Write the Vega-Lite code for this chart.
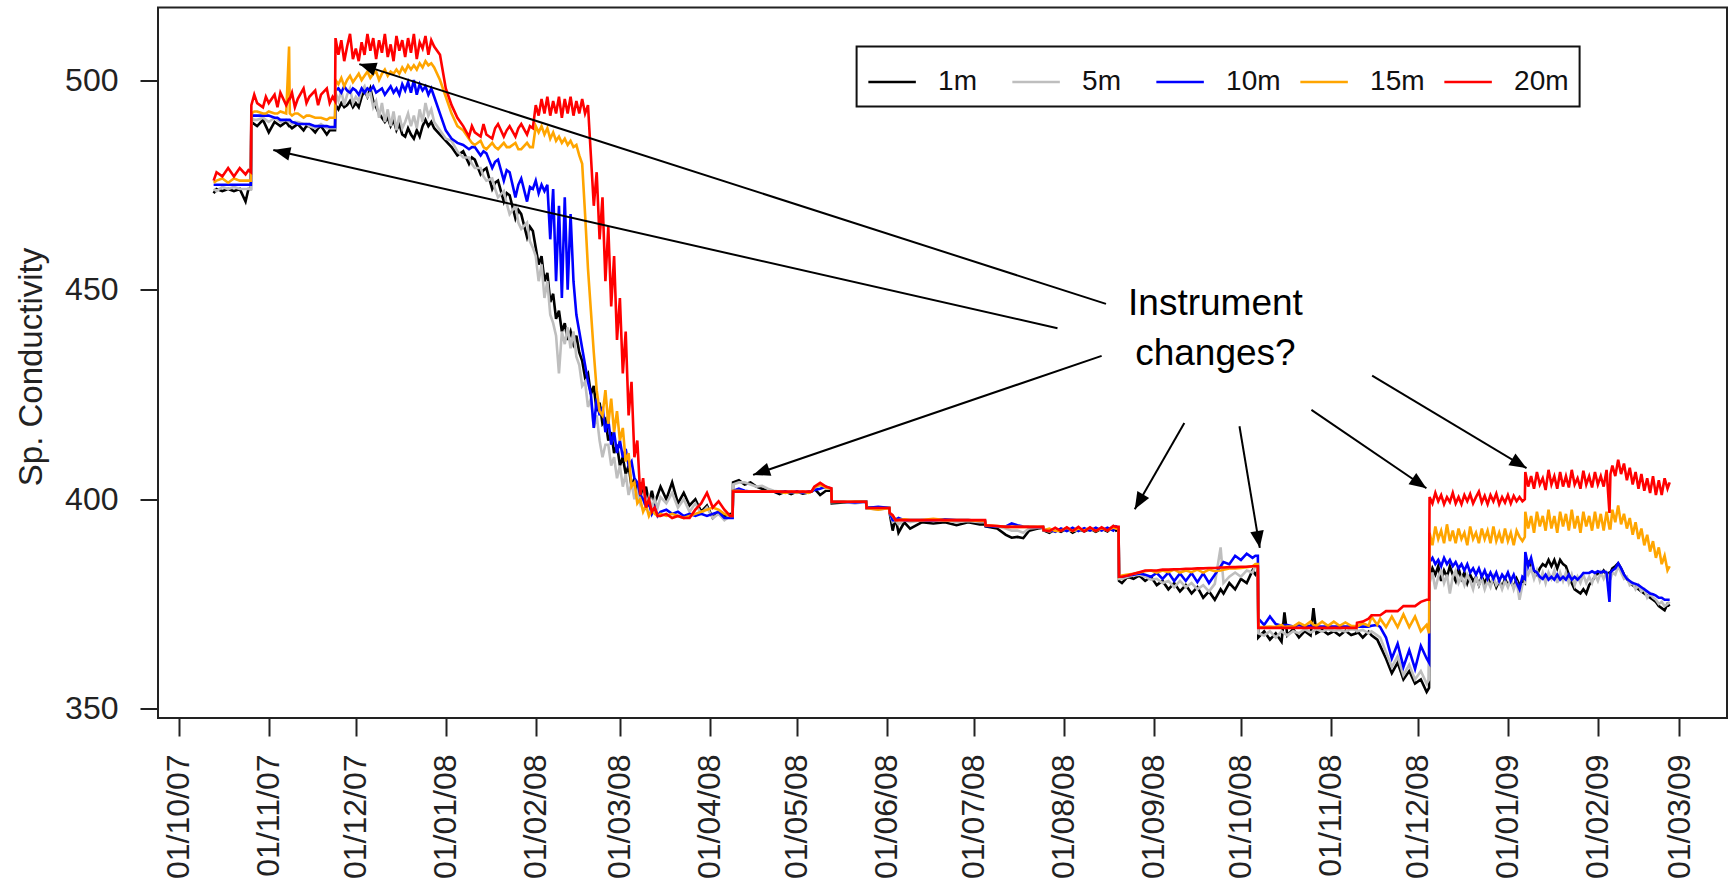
{
  "$schema": "https://vega.github.io/schema/vega-lite/v6.json",
  "width": 1569,
  "height": 710.5,
  "autosize": {"type": "none"},
  "padding": {"left": 158, "top": 7.5, "right": 4, "bottom": 164},
  "background": "white",
  "config": {
    "font": "Liberation Sans",
    "view": {"stroke": "#222222", "strokeWidth": 2},
    "axis": {"domain": false, "grid": false, "labelFont": "Liberation Sans", "titleFont": "Liberation Sans", "labelColor": "#222222", "titleColor": "#222222", "tickColor": "#222222"}
  },
  "datasets": {
    "sc": [
      {"t":"2007-10-13","1m":473,"5m":474,"10m":475,"15m":475.5,"20m":476},
      {"t":"2007-10-14","1m":474,"5m":473.5,"10m":475,"15m":476,"20m":478},
      {"t":"2007-10-16","1m":473.5,"5m":474.5,"10m":475,"15m":476.5,"20m":477},
      {"t":"2007-10-18","1m":474,"5m":474,"10m":475,"15m":475.5,"20m":479},
      {"t":"2007-10-20","1m":473.5,"5m":474.5,"10m":475,"15m":476.5,"20m":477},
      {"t":"2007-10-22","1m":474,"5m":474,"10m":475,"15m":476,"20m":479},
      {"t":"2007-10-24","1m":471,"5m":474,"10m":475,"15m":476,"20m":477.5},
      {"t":"2007-10-25","1m":474,"5m":474,"10m":475,"15m":476,"20m":478.5},
      {"t":"2007-10-25T20:00:00Z","1m":474,"5m":474,"10m":475,"15m":476,"20m":478},
      {"t":"2007-10-26","1m":490,"5m":491,"10m":491.5,"15m":492,"20m":494},
      {"t":"2007-10-27","1m":489.5,"5m":490.5,"10m":491.5,"15m":492.5,"20m":496.5},
      {"t":"2007-10-28","1m":489,"5m":490.5,"10m":491.5,"15m":492.5,"20m":494.5},
      {"t":"2007-10-30","1m":490.5,"5m":491,"10m":491.5,"15m":492,"20m":493.5},
      {"t":"2007-10-31","1m":489,"5m":490.5,"10m":491.5,"15m":492,"20m":496},
      {"t":"2007-11-01","1m":487.5,"5m":490,"10m":491.5,"15m":492.5,"20m":494.5},
      {"t":"2007-11-03","1m":490,"5m":491,"10m":491,"15m":492,"20m":496.5},
      {"t":"2007-11-04","1m":489.5,"5m":490.5,"10m":491,"15m":492,"20m":493.5},
      {"t":"2007-11-05","1m":489,"5m":490,"10m":490.5,"15m":492.5,"20m":497},
      {"t":"2007-11-07","1m":490,"5m":490.5,"10m":490.5,"15m":492,"20m":494},
      {"t":"2007-11-08","1m":489,"5m":490,"10m":490.5,"15m":508,"20m":495.5},
      {"t":"2007-11-08T06:00:00Z","1m":489,"5m":490,"10m":490.5,"15m":492,"20m":495.5},
      {"t":"2007-11-09","1m":488.5,"5m":489.5,"10m":490,"15m":491.5,"20m":497},
      {"t":"2007-11-10","1m":489,"5m":490,"10m":489.8,"15m":492,"20m":493.5},
      {"t":"2007-11-11","1m":489.5,"5m":490,"10m":489.5,"15m":492,"20m":495.5},
      {"t":"2007-11-13","1m":488,"5m":489.5,"10m":489.5,"15m":491,"20m":498},
      {"t":"2007-11-14","1m":489,"5m":489.5,"10m":489.5,"15m":491.5,"20m":494.5},
      {"t":"2007-11-15","1m":489,"5m":489,"10m":489.5,"15m":491.5,"20m":496},
      {"t":"2007-11-17","1m":487.5,"5m":488.5,"10m":489,"15m":491,"20m":497.5},
      {"t":"2007-11-18","1m":488.5,"5m":489,"10m":489,"15m":491,"20m":494},
      {"t":"2007-11-19","1m":489,"5m":489.5,"10m":489,"15m":491,"20m":496.5},
      {"t":"2007-11-21","1m":487,"5m":488.5,"10m":489,"15m":490.5,"20m":498},
      {"t":"2007-11-22","1m":488,"5m":488.5,"10m":488.8,"15m":491,"20m":494.5},
      {"t":"2007-11-23","1m":488,"5m":488.5,"10m":488.8,"15m":491,"20m":496},
      {"t":"2007-11-23T20:00:00Z","1m":488,"5m":488.5,"10m":488.8,"15m":491,"20m":495},
      {"t":"2007-11-24","1m":494,"5m":497,"10m":497.5,"15m":500,"20m":510},
      {"t":"2007-11-25","1m":493,"5m":495,"10m":498,"15m":499,"20m":506},
      {"t":"2007-11-26","1m":494.5,"5m":497.5,"10m":497,"15m":500.5,"20m":509.5},
      {"t":"2007-11-27","1m":493.5,"5m":494,"10m":498.5,"15m":498.5,"20m":504.5},
      {"t":"2007-11-28","1m":494,"5m":496.5,"10m":497.5,"15m":500,"20m":508},
      {"t":"2007-11-29","1m":495,"5m":498,"10m":497,"15m":501,"20m":511},
      {"t":"2007-11-30","1m":493.5,"5m":494.5,"10m":498,"15m":499.5,"20m":505},
      {"t":"2007-12-01","1m":494.5,"5m":496,"10m":497.5,"15m":500.5,"20m":507.5},
      {"t":"2007-12-02","1m":493.5,"5m":495,"10m":496.5,"15m":501.5,"20m":504.5},
      {"t":"2007-12-03","1m":496,"5m":497.5,"10m":498,"15m":500,"20m":509},
      {"t":"2007-12-04","1m":497.5,"5m":498.5,"10m":497,"15m":501,"20m":506},
      {"t":"2007-12-05","1m":496,"5m":496,"10m":498,"15m":502,"20m":511},
      {"t":"2007-12-06","1m":498,"5m":497,"10m":497.5,"15m":500.5,"20m":507},
      {"t":"2007-12-07","1m":495,"5m":493.5,"10m":498.5,"15m":501.5,"20m":510},
      {"t":"2007-12-08","1m":493.5,"5m":495,"10m":497,"15m":502,"20m":505},
      {"t":"2007-12-09","1m":492,"5m":491,"10m":497.5,"15m":500,"20m":509.5},
      {"t":"2007-12-10","1m":491,"5m":494.5,"10m":498,"15m":501.5,"20m":506.5},
      {"t":"2007-12-11","1m":490,"5m":490,"10m":496.5,"15m":502.5,"20m":511},
      {"t":"2007-12-12","1m":491,"5m":493,"10m":497.5,"15m":501,"20m":505.5},
      {"t":"2007-12-13","1m":489,"5m":489,"10m":498.5,"15m":502,"20m":508.5},
      {"t":"2007-12-14","1m":490.5,"5m":492.5,"10m":497,"15m":501.5,"20m":504.5},
      {"t":"2007-12-15","1m":488,"5m":488,"10m":498,"15m":502.5,"20m":510.5},
      {"t":"2007-12-16","1m":489.5,"5m":491.5,"10m":496.5,"15m":501.5,"20m":507},
      {"t":"2007-12-17","1m":487,"5m":488.5,"10m":499,"15m":503,"20m":509.5},
      {"t":"2007-12-18","1m":486.5,"5m":490,"10m":497.5,"15m":502,"20m":505.5},
      {"t":"2007-12-19","1m":488.5,"5m":492,"10m":499.5,"15m":503.5,"20m":510},
      {"t":"2007-12-20","1m":487,"5m":489,"10m":497,"15m":502.5,"20m":506.5},
      {"t":"2007-12-21","1m":486,"5m":491.5,"10m":500,"15m":503.5,"20m":511},
      {"t":"2007-12-22","1m":488,"5m":488.5,"10m":496.5,"15m":502.5,"20m":505},
      {"t":"2007-12-23","1m":486.5,"5m":493,"10m":499,"15m":504,"20m":509},
      {"t":"2007-12-24","1m":489,"5m":490,"10m":497.5,"15m":503,"20m":507.5},
      {"t":"2007-12-25","1m":490.5,"5m":494.5,"10m":498.5,"15m":504.5,"20m":510.5},
      {"t":"2007-12-26","1m":489,"5m":491.5,"10m":496.5,"15m":503.5,"20m":506},
      {"t":"2007-12-27","1m":490,"5m":493,"10m":498,"15m":504,"20m":509.5},
      {"t":"2007-12-28","1m":488.5,"5m":490,"10m":496,"15m":503,"20m":508},
      {"t":"2007-12-30","1m":487,"5m":488,"10m":492,"15m":500,"20m":506},
      {"t":"2008-01-01","1m":485.5,"5m":486,"10m":488,"15m":496,"20m":498},
      {"t":"2008-01-03","1m":484,"5m":485.5,"10m":486,"15m":492,"20m":494},
      {"t":"2008-01-05","1m":482,"5m":483,"10m":485,"15m":489,"20m":491},
      {"t":"2008-01-07","1m":483,"5m":481.5,"10m":484.5,"15m":488,"20m":489},
      {"t":"2008-01-09","1m":480,"5m":481.5,"10m":483.5,"15m":486,"20m":486.5},
      {"t":"2008-01-10","1m":481.5,"5m":480,"10m":484,"15m":485,"20m":489},
      {"t":"2008-01-11","1m":481,"5m":479,"10m":484,"15m":484.5,"20m":487.5},
      {"t":"2008-01-13","1m":477.5,"5m":479,"10m":482,"15m":485.5,"20m":486.5},
      {"t":"2008-01-14","1m":478.5,"5m":477,"10m":483,"15m":484,"20m":489.5},
      {"t":"2008-01-15","1m":479,"5m":476,"10m":482.5,"15m":483.5,"20m":487},
      {"t":"2008-01-17","1m":474,"5m":476.5,"10m":479,"15m":485,"20m":486},
      {"t":"2008-01-18","1m":475.5,"5m":474,"10m":480.5,"15m":484,"20m":488.5},
      {"t":"2008-01-19","1m":476,"5m":472,"10m":481,"15m":483.5,"20m":489.5},
      {"t":"2008-01-21","1m":471,"5m":473.5,"10m":476,"15m":485,"20m":486.5},
      {"t":"2008-01-22","1m":473,"5m":470.5,"10m":478.5,"15m":484,"20m":488},
      {"t":"2008-01-23","1m":472.5,"5m":468,"10m":478,"15m":484,"20m":489},
      {"t":"2008-01-25","1m":467,"5m":470,"10m":472,"15m":485,"20m":486.5},
      {"t":"2008-01-26","1m":469,"5m":466,"10m":475,"15m":483.5,"20m":488.5},
      {"t":"2008-01-27","1m":468,"5m":464.5,"10m":476.5,"15m":483.5,"20m":489.5},
      {"t":"2008-01-29","1m":462.5,"5m":466,"10m":471,"15m":485,"20m":487},
      {"t":"2008-01-30","1m":465,"5m":461.5,"10m":474.5,"15m":484,"20m":489},
      {"t":"2008-01-31","1m":464,"5m":460,"10m":474,"15m":484,"20m":488.5},
      {"t":"2008-02-01","1m":460,"5m":458,"10m":476,"15m":489,"20m":494},
      {"t":"2008-02-02","1m":456,"5m":452,"10m":473,"15m":487.5,"20m":491.5},
      {"t":"2008-02-03","1m":458,"5m":456,"10m":475,"15m":489,"20m":495.5},
      {"t":"2008-02-04","1m":452,"5m":448,"10m":473.5,"15m":487,"20m":492},
      {"t":"2008-02-05","1m":454,"5m":452,"10m":475,"15m":488.5,"20m":496},
      {"t":"2008-02-06","1m":447,"5m":444,"10m":462,"15m":486,"20m":491.5},
      {"t":"2008-02-07","1m":449,"5m":442,"10m":474,"15m":487.5,"20m":495},
      {"t":"2008-02-08","1m":443,"5m":439,"10m":452,"15m":485.5,"20m":492},
      {"t":"2008-02-09","1m":445,"5m":430,"10m":470,"15m":486.5,"20m":496},
      {"t":"2008-02-10","1m":440,"5m":440,"10m":448,"15m":485,"20m":491},
      {"t":"2008-02-11","1m":442,"5m":437,"10m":472,"15m":486,"20m":495.5},
      {"t":"2008-02-12","1m":438,"5m":441,"10m":450,"15m":484.5,"20m":492},
      {"t":"2008-02-13","1m":440,"5m":436,"10m":468,"15m":485.5,"20m":496},
      {"t":"2008-02-14","1m":437,"5m":440,"10m":452,"15m":484,"20m":491.5},
      {"t":"2008-02-15","1m":439,"5m":434,"10m":444,"15m":484.5,"20m":495},
      {"t":"2008-02-16","1m":435,"5m":432,"10m":440,"15m":482,"20m":492},
      {"t":"2008-02-17","1m":433,"5m":427,"10m":436,"15m":480,"20m":495.5},
      {"t":"2008-02-18","1m":429,"5m":428,"10m":432,"15m":468,"20m":492},
      {"t":"2008-02-19","1m":430,"5m":422,"10m":428,"15m":455,"20m":494},
      {"t":"2008-02-20","1m":425,"5m":424,"10m":425,"15m":445,"20m":482},
      {"t":"2008-02-21","1m":427,"5m":417,"10m":417,"15m":435,"20m":470},
      {"t":"2008-02-22","1m":421,"5m":420,"10m":424,"15m":426,"20m":478},
      {"t":"2008-02-23","1m":423,"5m":414,"10m":420,"15m":421,"20m":462},
      {"t":"2008-02-24","1m":418,"5m":410,"10m":422,"15m":420,"20m":472},
      {"t":"2008-02-25","1m":419,"5m":413,"10m":416,"15m":426,"20m":452},
      {"t":"2008-02-26","1m":414,"5m":413,"10m":419,"15m":418,"20m":465},
      {"t":"2008-02-27","1m":416,"5m":408,"10m":413,"15m":424,"20m":446},
      {"t":"2008-02-28","1m":411,"5m":410,"10m":416,"15m":416,"20m":458},
      {"t":"2008-02-29","1m":413,"5m":405,"10m":411,"15m":421,"20m":438},
      {"t":"2008-03-01","1m":408,"5m":408,"10m":414,"15m":414,"20m":448},
      {"t":"2008-03-02","1m":410,"5m":403,"10m":410,"15m":417,"20m":430},
      {"t":"2008-03-03","1m":406,"5m":406,"10m":412,"15m":409,"20m":440},
      {"t":"2008-03-04","1m":408,"5m":401,"10m":408,"15m":411,"20m":420},
      {"t":"2008-03-05","1m":403,"5m":404,"10m":409,"15m":403,"20m":428},
      {"t":"2008-03-06","1m":405,"5m":400,"10m":405,"15m":404,"20m":410},
      {"t":"2008-03-07","1m":401,"5m":402,"10m":404,"15m":399,"20m":414},
      {"t":"2008-03-08","1m":404,"5m":399,"10m":401,"15m":400,"20m":401},
      {"t":"2008-03-09","1m":400,"5m":401,"10m":400,"15m":397,"20m":405},
      {"t":"2008-03-10","1m":403,"5m":398.5,"10m":398,"15m":398.5,"20m":398},
      {"t":"2008-03-11","1m":399,"5m":400.5,"10m":399,"15m":396,"20m":400},
      {"t":"2008-03-12","1m":402,"5m":398,"10m":396.5,"15m":397.5,"20m":397},
      {"t":"2008-03-13","1m":399,"5m":400,"10m":398,"15m":396.5,"20m":398},
      {"t":"2008-03-14","1m":401,"5m":398,"10m":396,"15m":396,"20m":396},
      {"t":"2008-03-15","1m":403,"5m":400.5,"10m":397,"15m":396.5,"20m":396},
      {"t":"2008-03-17","1m":400,"5m":399,"10m":397.5,"15m":396,"20m":396.5},
      {"t":"2008-03-19","1m":404,"5m":401.5,"10m":396.5,"15m":396.5,"20m":395.5},
      {"t":"2008-03-21","1m":399,"5m":398,"10m":397,"15m":396,"20m":396},
      {"t":"2008-03-23","1m":401.5,"5m":400,"10m":396,"15m":395.5,"20m":395.5},
      {"t":"2008-03-25","1m":398.5,"5m":397,"10m":396.5,"15m":396,"20m":395.5},
      {"t":"2008-03-27","1m":400,"5m":399,"10m":396,"15m":396.5,"20m":397.5},
      {"t":"2008-03-29","1m":397,"5m":396.5,"10m":396.5,"15m":397,"20m":399},
      {"t":"2008-03-31","1m":398.5,"5m":398,"10m":396,"15m":397.5,"20m":401.5},
      {"t":"2008-04-02","1m":395.5,"5m":395.5,"10m":396.5,"15m":398,"20m":398},
      {"t":"2008-04-04","1m":397,"5m":396.5,"10m":397,"15m":397.5,"20m":399.5},
      {"t":"2008-04-06","1m":396,"5m":395,"10m":395.5,"15m":396.5,"20m":397.5},
      {"t":"2008-04-08","1m":396.5,"5m":396,"10m":395.5,"15m":396,"20m":396},
      {"t":"2008-04-08T20:00:00Z","1m":396,"5m":396,"10m":395.5,"15m":396,"20m":396},
      {"t":"2008-04-09","1m":404,"5m":403.5,"10m":402,"15m":402,"20m":401.8},
      {"t":"2008-04-11","1m":404.5,"5m":404,"10m":402.5,"15m":402,"20m":401.8},
      {"t":"2008-04-13","1m":403.5,"5m":404,"10m":402,"15m":401.8,"20m":401.8},
      {"t":"2008-04-15","1m":404,"5m":403.5,"10m":401.8,"15m":401.8,"20m":401.8},
      {"t":"2008-04-17","1m":403,"5m":403,"10m":401.8,"15m":401.8,"20m":401.8},
      {"t":"2008-04-19","1m":402.5,"5m":403.2,"10m":401.8,"15m":401.8,"20m":401.8},
      {"t":"2008-04-21","1m":402,"5m":402.5,"10m":401.8,"15m":401.8,"20m":401.8},
      {"t":"2008-04-23","1m":401.8,"5m":402,"10m":401.8,"15m":401.8,"20m":401.8},
      {"t":"2008-04-25","1m":401.2,"5m":401.8,"10m":401.7,"15m":401.8,"20m":401.8},
      {"t":"2008-04-27","1m":401.8,"5m":401.6,"10m":401.8,"15m":401.5,"20m":401.8},
      {"t":"2008-04-29","1m":401.2,"5m":401.8,"10m":401.6,"15m":401.8,"20m":401.8},
      {"t":"2008-05-01","1m":401.8,"5m":401.5,"10m":401.8,"15m":401.6,"20m":401.8},
      {"t":"2008-05-03","1m":401.3,"5m":401.8,"10m":401.5,"15m":401.8,"20m":401.8},
      {"t":"2008-05-05","1m":401.6,"5m":401.6,"10m":401.8,"15m":401.5,"20m":401.8},
      {"t":"2008-05-06","1m":401.8,"5m":401.8,"10m":401.8,"15m":401.8,"20m":401.8},
      {"t":"2008-05-07","1m":402.5,"5m":402.5,"10m":402.2,"15m":402.8,"20m":403},
      {"t":"2008-05-09","1m":401,"5m":403.5,"10m":402.5,"15m":403.5,"20m":403.9},
      {"t":"2008-05-11","1m":402,"5m":402.5,"10m":403,"15m":402.8,"20m":403},
      {"t":"2008-05-12T20:00:00Z","1m":402,"5m":402.5,"10m":402.5,"15m":402.5,"20m":402.6},
      {"t":"2008-05-13","1m":399,"5m":399.3,"10m":399.4,"15m":399.4,"20m":399.4},
      {"t":"2008-05-17","1m":399.2,"5m":399.4,"10m":399.4,"15m":399.4,"20m":399.4},
      {"t":"2008-05-21","1m":399.4,"5m":399,"10m":399.2,"15m":399.4,"20m":399.4},
      {"t":"2008-05-24T20:00:00Z","1m":399.4,"5m":399.4,"10m":399.4,"15m":399.4,"20m":399.4},
      {"t":"2008-05-25","1m":398,"5m":397.9,"10m":397.9,"15m":397.9,"20m":397.9},
      {"t":"2008-05-29","1m":397.9,"5m":397.5,"10m":398.2,"15m":397.5,"20m":397.9},
      {"t":"2008-06-01T20:00:00Z","1m":397.9,"5m":397.9,"10m":397.9,"15m":397.9,"20m":397.9},
      {"t":"2008-06-02","1m":396.5,"5m":396.7,"10m":396.7,"15m":396.7,"20m":396.7},
      {"t":"2008-06-03","1m":392.5,"5m":394.5,"10m":395,"15m":396,"20m":396.2},
      {"t":"2008-06-04","1m":395.5,"5m":395,"10m":395,"15m":395,"20m":395},
      {"t":"2008-06-05","1m":392,"5m":394,"10m":395.5,"15m":395,"20m":395},
      {"t":"2008-06-07","1m":394.5,"5m":395,"10m":395,"15m":395.2,"20m":395},
      {"t":"2008-06-09","1m":393,"5m":394.5,"10m":395,"15m":395,"20m":395},
      {"t":"2008-06-13","1m":394.5,"5m":395,"10m":395,"15m":395,"20m":395},
      {"t":"2008-06-17","1m":394.2,"5m":394.8,"10m":395,"15m":395.3,"20m":395},
      {"t":"2008-06-21","1m":394.5,"5m":395,"10m":395.2,"15m":395,"20m":395},
      {"t":"2008-06-25","1m":393.8,"5m":394.5,"10m":395,"15m":395,"20m":395},
      {"t":"2008-06-29","1m":394.5,"5m":394.8,"10m":395,"15m":395,"20m":395},
      {"t":"2008-07-03","1m":394,"5m":394.5,"10m":394.8,"15m":394.8,"20m":395},
      {"t":"2008-07-04T20:00:00Z","1m":394,"5m":394.5,"10m":394.8,"15m":394.8,"20m":395},
      {"t":"2008-07-05","1m":393.5,"5m":393.8,"10m":393.6,"15m":393.8,"20m":393.8},
      {"t":"2008-07-09","1m":393,"5m":393.5,"10m":393.5,"15m":393.6,"20m":393.6},
      {"t":"2008-07-12","1m":391.5,"5m":393,"10m":393.5,"15m":393.4,"20m":393.4},
      {"t":"2008-07-14","1m":390.8,"5m":392.5,"10m":394.2,"15m":393.4,"20m":393.4},
      {"t":"2008-07-16","1m":391,"5m":392.5,"10m":393.8,"15m":393.4,"20m":393.4},
      {"t":"2008-07-18","1m":390.7,"5m":392,"10m":393.5,"15m":393.4,"20m":393.4},
      {"t":"2008-07-20","1m":392.5,"5m":393,"10m":393.4,"15m":393.4,"20m":393.4},
      {"t":"2008-07-23","1m":393,"5m":393.2,"10m":393.3,"15m":393.4,"20m":393.4},
      {"t":"2008-07-24T20:00:00Z","1m":393.2,"5m":393.3,"10m":393.4,"15m":393.4,"20m":393.4},
      {"t":"2008-07-25","1m":392.6,"5m":392.6,"10m":392.6,"15m":392.6,"20m":392.6},
      {"t":"2008-07-27","1m":392,"5m":392.3,"10m":392.8,"15m":393,"20m":392.4},
      {"t":"2008-07-29","1m":392.8,"5m":392.6,"10m":392.2,"15m":392.4,"20m":393.2},
      {"t":"2008-07-31","1m":392.2,"5m":392.8,"10m":393,"15m":392.5,"20m":392.4},
      {"t":"2008-08-02","1m":393,"5m":392.4,"10m":392.4,"15m":393.2,"20m":393.3},
      {"t":"2008-08-04","1m":392,"5m":392.6,"10m":393.2,"15m":392.4,"20m":392.4},
      {"t":"2008-08-06","1m":392.8,"5m":392.5,"10m":392.4,"15m":393,"20m":393.4},
      {"t":"2008-08-08","1m":392.3,"5m":392.8,"10m":393.1,"15m":392.5,"20m":392.3},
      {"t":"2008-08-10","1m":392.9,"5m":392.5,"10m":392.5,"15m":393.2,"20m":393.3},
      {"t":"2008-08-12","1m":392.2,"5m":392.8,"10m":393.2,"15m":392.4,"20m":392.4},
      {"t":"2008-08-14","1m":393,"5m":392.6,"10m":392.5,"15m":393.1,"20m":393.3},
      {"t":"2008-08-16","1m":392.3,"5m":392.9,"10m":393.2,"15m":392.5,"20m":392.5},
      {"t":"2008-08-18","1m":393.5,"5m":393.4,"10m":392.5,"15m":393.3,"20m":393.6},
      {"t":"2008-08-19","1m":392.5,"5m":393,"10m":393.5,"15m":393,"20m":393.4},
      {"t":"2008-08-19T20:00:00Z","1m":392.8,"5m":393,"10m":393.2,"15m":393.2,"20m":393.4},
      {"t":"2008-08-20","1m":380.5,"5m":381,"10m":381.5,"15m":381.5,"20m":381.5},
      {"t":"2008-08-21","1m":380,"5m":381,"10m":381.5,"15m":381.8,"20m":381.5},
      {"t":"2008-08-23","1m":381.5,"5m":381.5,"10m":381.8,"15m":382,"20m":381.8},
      {"t":"2008-08-25","1m":381,"5m":381.8,"10m":382,"15m":382.2,"20m":382.2},
      {"t":"2008-08-27","1m":381.8,"5m":382,"10m":382.3,"15m":382.5,"20m":382.6},
      {"t":"2008-08-29","1m":380.5,"5m":381.5,"10m":382,"15m":382.8,"20m":383},
      {"t":"2008-08-31","1m":381.5,"5m":380.8,"10m":381.5,"15m":383,"20m":383},
      {"t":"2008-09-02","1m":379.5,"5m":381,"10m":382.4,"15m":382.5,"20m":383},
      {"t":"2008-09-04","1m":380.5,"5m":380,"10m":381,"15m":383,"20m":383.2},
      {"t":"2008-09-06","1m":378.5,"5m":380.5,"10m":382.5,"15m":382.6,"20m":383.2},
      {"t":"2008-09-08","1m":380,"5m":379,"10m":380.5,"15m":383.2,"20m":383.3},
      {"t":"2008-09-10","1m":378,"5m":380.5,"10m":382.3,"15m":382.5,"20m":383.3},
      {"t":"2008-09-12","1m":379.5,"5m":379,"10m":380.5,"15m":383,"20m":383.4},
      {"t":"2008-09-14","1m":377.5,"5m":380,"10m":382.4,"15m":382.6,"20m":383.4},
      {"t":"2008-09-16","1m":379,"5m":378.5,"10m":380.2,"15m":383.2,"20m":383.5},
      {"t":"2008-09-18","1m":376.5,"5m":379.5,"10m":382.3,"15m":382.5,"20m":383.5},
      {"t":"2008-09-20","1m":378,"5m":378,"10m":380,"15m":383.2,"20m":383.6},
      {"t":"2008-09-22","1m":376,"5m":379.8,"10m":382,"15m":382.8,"20m":383.6},
      {"t":"2008-09-24","1m":378.5,"5m":388.5,"10m":384,"15m":383,"20m":383.7},
      {"t":"2008-09-25","1m":377.5,"5m":380,"10m":385,"15m":383.2,"20m":383.7},
      {"t":"2008-09-27","1m":380,"5m":381.5,"10m":384.5,"15m":383.5,"20m":383.8},
      {"t":"2008-09-29","1m":378.5,"5m":382.5,"10m":386.5,"15m":383.5,"20m":383.8},
      {"t":"2008-10-01","1m":381,"5m":381.5,"10m":385.5,"15m":383.6,"20m":383.9},
      {"t":"2008-10-03","1m":380,"5m":383,"10m":387,"15m":383.8,"20m":383.9},
      {"t":"2008-10-05","1m":383,"5m":382.5,"10m":386,"15m":384,"20m":384},
      {"t":"2008-10-06","1m":382,"5m":384,"10m":386.5,"15m":384.5,"20m":384},
      {"t":"2008-10-06T20:00:00Z","1m":383,"5m":384,"10m":386.5,"15m":384.5,"20m":384},
      {"t":"2008-10-07","1m":367,"5m":368,"10m":371.5,"15m":369.5,"20m":369.3},
      {"t":"2008-10-09","1m":368.5,"5m":367.5,"10m":370,"15m":369.5,"20m":369.3},
      {"t":"2008-10-11","1m":366.5,"5m":368.5,"10m":372,"15m":369.6,"20m":369.3},
      {"t":"2008-10-13","1m":368,"5m":367,"10m":370.2,"15m":369.5,"20m":369.3},
      {"t":"2008-10-15","1m":366,"5m":368.5,"10m":369.8,"15m":370,"20m":369.3},
      {"t":"2008-10-16","1m":373,"5m":368,"10m":370,"15m":369.5,"20m":369.3},
      {"t":"2008-10-17","1m":367.5,"5m":367.5,"10m":370,"15m":369.6,"20m":369.3},
      {"t":"2008-10-19","1m":369,"5m":368.5,"10m":369.6,"15m":369.6,"20m":369.3},
      {"t":"2008-10-21","1m":367,"5m":368,"10m":370,"15m":370.5,"20m":369.3},
      {"t":"2008-10-23","1m":368.5,"5m":369,"10m":369.6,"15m":369.8,"20m":369.3},
      {"t":"2008-10-25","1m":367.5,"5m":368.2,"10m":369.8,"15m":370.8,"20m":369.3},
      {"t":"2008-10-26","1m":374,"5m":368.5,"10m":369.6,"15m":370,"20m":369.3},
      {"t":"2008-10-27","1m":368,"5m":369,"10m":369.6,"15m":369.8,"20m":369.3},
      {"t":"2008-10-29","1m":368.8,"5m":368.4,"10m":369.6,"15m":370.8,"20m":369.3},
      {"t":"2008-10-31","1m":367.8,"5m":369,"10m":369.6,"15m":369.8,"20m":369.3},
      {"t":"2008-11-02","1m":368.5,"5m":368.6,"10m":369.6,"15m":370.8,"20m":369.3},
      {"t":"2008-11-04","1m":367.5,"5m":368.8,"10m":369.6,"15m":369.8,"20m":369.3},
      {"t":"2008-11-06","1m":368.6,"5m":368.4,"10m":369.6,"15m":370.6,"20m":369.3},
      {"t":"2008-11-08","1m":367.6,"5m":369,"10m":369.6,"15m":369.8,"20m":369.3},
      {"t":"2008-11-09T20:00:00Z","1m":368,"5m":368.8,"10m":369.6,"15m":369.7,"20m":369.3},
      {"t":"2008-11-10","1m":368.6,"5m":368.5,"10m":369.6,"15m":369.6,"20m":370.5},
      {"t":"2008-11-12","1m":367,"5m":368.8,"10m":369.6,"15m":370.4,"20m":370.8},
      {"t":"2008-11-14","1m":368.4,"5m":368,"10m":369.6,"15m":369.8,"20m":371.5},
      {"t":"2008-11-15","1m":367.5,"5m":368.5,"10m":369.8,"15m":372,"20m":372.3},
      {"t":"2008-11-17","1m":366.5,"5m":367.5,"10m":370,"15m":370,"20m":372.3},
      {"t":"2008-11-18","1m":365,"5m":367,"10m":369.5,"15m":371.5,"20m":372.3},
      {"t":"2008-11-20","1m":362,"5m":363.5,"10m":367,"15m":369.5,"20m":373.3},
      {"t":"2008-11-22","1m":358.5,"5m":360,"10m":362,"15m":372,"20m":373.3},
      {"t":"2008-11-24","1m":361,"5m":362.5,"10m":365.5,"15m":369.5,"20m":373.3},
      {"t":"2008-11-26","1m":357,"5m":358,"10m":360,"15m":372.5,"20m":374.5},
      {"t":"2008-11-28","1m":359,"5m":360.5,"10m":364,"15m":369.5,"20m":374.5},
      {"t":"2008-11-30","1m":356,"5m":357,"10m":359.5,"15m":372,"20m":374.5},
      {"t":"2008-12-02","1m":357,"5m":359,"10m":365,"15m":368.5,"20m":375.5},
      {"t":"2008-12-04","1m":354,"5m":356,"10m":362,"15m":370,"20m":376},
      {"t":"2008-12-04T20:00:00Z","1m":355,"5m":357,"10m":361,"15m":368,"20m":376},
      {"t":"2008-12-05","1m":381,"5m":380,"10m":385,"15m":392,"20m":400.5},
      {"t":"2008-12-06","1m":383.5,"5m":382.5,"10m":386,"15m":389,"20m":399},
      {"t":"2008-12-07","1m":382,"5m":378.5,"10m":384.5,"15m":393.5,"20m":401.5},
      {"t":"2008-12-08","1m":384,"5m":381.5,"10m":385.5,"15m":390.5,"20m":399.5},
      {"t":"2008-12-09","1m":380.5,"5m":383,"10m":384,"15m":392.5,"20m":401},
      {"t":"2008-12-10","1m":383,"5m":380,"10m":386,"15m":389.5,"20m":398.8},
      {"t":"2008-12-11","1m":381.5,"5m":382,"10m":384.5,"15m":394,"20m":400.5},
      {"t":"2008-12-12","1m":384,"5m":377.5,"10m":385.5,"15m":390,"20m":399.3},
      {"t":"2008-12-13","1m":382,"5m":381.5,"10m":384,"15m":392.5,"20m":401.5},
      {"t":"2008-12-14","1m":380.5,"5m":383,"10m":385,"15m":389.5,"20m":399},
      {"t":"2008-12-15","1m":383.5,"5m":380,"10m":383.5,"15m":393,"20m":400.5},
      {"t":"2008-12-16","1m":381,"5m":381.5,"10m":384.5,"15m":390.5,"20m":398.8},
      {"t":"2008-12-17","1m":382.5,"5m":379.5,"10m":383,"15m":392,"20m":401},
      {"t":"2008-12-18","1m":380,"5m":382,"10m":384.5,"15m":389,"20m":399.5},
      {"t":"2008-12-19","1m":382,"5m":380.5,"10m":382.5,"15m":393.5,"20m":401.2},
      {"t":"2008-12-20","1m":380.5,"5m":378.5,"10m":383.5,"15m":390.5,"20m":399},
      {"t":"2008-12-21","1m":381.5,"5m":381.5,"10m":382,"15m":392,"20m":400.5},
      {"t":"2008-12-22","1m":379.5,"5m":379.5,"10m":383.5,"15m":389.5,"20m":401.8},
      {"t":"2008-12-23","1m":381.5,"5m":381,"10m":381.5,"15m":393,"20m":399.2},
      {"t":"2008-12-24","1m":380,"5m":378.5,"10m":383,"15m":390.5,"20m":400.8},
      {"t":"2008-12-25","1m":381.5,"5m":380.5,"10m":381,"15m":392.5,"20m":398.8},
      {"t":"2008-12-26","1m":379.5,"5m":379,"10m":382.5,"15m":389.5,"20m":401},
      {"t":"2008-12-27","1m":381,"5m":381.5,"10m":381,"15m":393.5,"20m":399.5},
      {"t":"2008-12-28","1m":379,"5m":379.5,"10m":382.5,"15m":390,"20m":401.3},
      {"t":"2008-12-29","1m":380.5,"5m":380.5,"10m":380.5,"15m":392,"20m":398.8},
      {"t":"2008-12-30","1m":379,"5m":378.5,"10m":382,"15m":389.5,"20m":400.5},
      {"t":"2008-12-31","1m":381,"5m":380.5,"10m":381,"15m":393,"20m":399.2},
      {"t":"2009-01-01","1m":379.5,"5m":379,"10m":382.5,"15m":390,"20m":401},
      {"t":"2009-01-02","1m":380.5,"5m":381,"10m":380.5,"15m":392,"20m":399},
      {"t":"2009-01-03","1m":379,"5m":378.5,"10m":382,"15m":389,"20m":400.8},
      {"t":"2009-01-04","1m":381,"5m":380.5,"10m":380,"15m":392.5,"20m":399.5},
      {"t":"2009-01-05","1m":379.5,"5m":376,"10m":378.5,"15m":391,"20m":400.5},
      {"t":"2009-01-06","1m":380.5,"5m":379.5,"10m":381.5,"15m":390,"20m":399.5},
      {"t":"2009-01-06T20:00:00Z","1m":380,"5m":380,"10m":381,"15m":391,"20m":400},
      {"t":"2009-01-07","1m":386,"5m":384,"10m":387.4,"15m":397,"20m":406.5},
      {"t":"2009-01-08","1m":385,"5m":382,"10m":384,"15m":393,"20m":403},
      {"t":"2009-01-09","1m":384,"5m":383.5,"10m":386,"15m":396,"20m":405.5},
      {"t":"2009-01-10","1m":383,"5m":381,"10m":383,"15m":392,"20m":402.5},
      {"t":"2009-01-11","1m":382,"5m":383,"10m":382.5,"15m":397,"20m":406.5},
      {"t":"2009-01-12","1m":383.5,"5m":380.5,"10m":381.5,"15m":393.5,"20m":403.5},
      {"t":"2009-01-13","1m":384.5,"5m":382.5,"10m":381,"15m":396,"20m":405},
      {"t":"2009-01-14","1m":384,"5m":380,"10m":382,"15m":392.5,"20m":402.2},
      {"t":"2009-01-15","1m":385.5,"5m":382.5,"10m":380.8,"15m":397.5,"20m":407},
      {"t":"2009-01-16","1m":384,"5m":381,"10m":381.5,"15m":393,"20m":403.5},
      {"t":"2009-01-17","1m":385.5,"5m":383,"10m":380.8,"15m":396,"20m":405.5},
      {"t":"2009-01-18","1m":383.5,"5m":380,"10m":382,"15m":392,"20m":402.5},
      {"t":"2009-01-19","1m":385.5,"5m":382.5,"10m":380.8,"15m":397,"20m":406.5},
      {"t":"2009-01-20","1m":384.5,"5m":380.5,"10m":381.5,"15m":393.5,"20m":403},
      {"t":"2009-01-21","1m":384,"5m":382.5,"10m":380.8,"15m":396.5,"20m":405.5},
      {"t":"2009-01-22","1m":382,"5m":380,"10m":382,"15m":392.5,"20m":402.8},
      {"t":"2009-01-23","1m":380,"5m":382,"10m":380.8,"15m":397.5,"20m":407},
      {"t":"2009-01-24","1m":378.5,"5m":379.5,"10m":381.5,"15m":393,"20m":403.5},
      {"t":"2009-01-25","1m":378,"5m":381.5,"10m":380.8,"15m":396,"20m":405},
      {"t":"2009-01-26","1m":377.5,"5m":380,"10m":381.5,"15m":392,"20m":402.5},
      {"t":"2009-01-27","1m":378.5,"5m":382,"10m":382.4,"15m":397,"20m":406.8},
      {"t":"2009-01-28","1m":377.5,"5m":380,"10m":382.4,"15m":393.5,"20m":403.5},
      {"t":"2009-01-29","1m":379.5,"5m":381.5,"10m":382.4,"15m":396,"20m":405.5},
      {"t":"2009-01-30","1m":380.5,"5m":380,"10m":382.8,"15m":392.5,"20m":402.8},
      {"t":"2009-01-31","1m":381.5,"5m":382,"10m":382.4,"15m":397,"20m":406.5},
      {"t":"2009-02-01","1m":382.5,"5m":380.5,"10m":382.8,"15m":393,"20m":403.5},
      {"t":"2009-02-02","1m":382,"5m":382.5,"10m":382.5,"15m":396.5,"20m":405.5},
      {"t":"2009-02-03","1m":383,"5m":381,"10m":382.8,"15m":392.5,"20m":403},
      {"t":"2009-02-04","1m":382,"5m":382.5,"10m":382.5,"15m":397,"20m":407},
      {"t":"2009-02-05","1m":382.5,"5m":381,"10m":375.5,"15m":393,"20m":396.7},
      {"t":"2009-02-05T08:00:00Z","1m":382.5,"5m":381,"10m":382.5,"15m":393,"20m":406},
      {"t":"2009-02-06","1m":383.5,"5m":382.5,"10m":383,"15m":397.5,"20m":408},
      {"t":"2009-02-07","1m":384,"5m":382,"10m":383.5,"15m":394.5,"20m":405.5},
      {"t":"2009-02-08","1m":384.7,"5m":384,"10m":384.7,"15m":398.5,"20m":409.4},
      {"t":"2009-02-09","1m":383.5,"5m":382.5,"10m":383.5,"15m":394,"20m":406},
      {"t":"2009-02-10","1m":382,"5m":381,"10m":382,"15m":396.5,"20m":408.5},
      {"t":"2009-02-11","1m":381,"5m":381.5,"10m":381,"15m":393,"20m":404.5},
      {"t":"2009-02-12","1m":380,"5m":379.5,"10m":380.5,"15m":395.5,"20m":407.5},
      {"t":"2009-02-13","1m":379.5,"5m":380,"10m":380,"15m":391.5,"20m":403.5},
      {"t":"2009-02-14","1m":379,"5m":378.5,"10m":379.8,"15m":394.5,"20m":406.5},
      {"t":"2009-02-15","1m":378.5,"5m":379.5,"10m":379.5,"15m":390.5,"20m":402.5},
      {"t":"2009-02-16","1m":378,"5m":378,"10m":379,"15m":393,"20m":406},
      {"t":"2009-02-17","1m":377.5,"5m":378.5,"10m":378.5,"15m":389,"20m":402},
      {"t":"2009-02-18","1m":377,"5m":376.5,"10m":378,"15m":391.5,"20m":405},
      {"t":"2009-02-19","1m":376.5,"5m":377.5,"10m":377.5,"15m":387.5,"20m":401.5},
      {"t":"2009-02-20","1m":376,"5m":376.5,"10m":377.3,"15m":390,"20m":405.5},
      {"t":"2009-02-21","1m":375.5,"5m":376,"10m":377,"15m":386,"20m":401},
      {"t":"2009-02-22","1m":374.5,"5m":375,"10m":376.5,"15m":388.5,"20m":404.5},
      {"t":"2009-02-23","1m":374,"5m":375.5,"10m":376.5,"15m":384.5,"20m":401},
      {"t":"2009-02-24","1m":373.5,"5m":374.5,"10m":376,"15m":386.5,"20m":405},
      {"t":"2009-02-25","1m":375,"5m":375,"10m":376,"15m":383,"20m":402.5},
      {"t":"2009-02-25T18:00:00Z","1m":374.5,"5m":375.5,"10m":376,"15m":384,"20m":404}
    ],
    "arrows": [
      {"id":"a1","t":"2008-07-29T19:00:00Z","v":440.8,"t2":"2007-11-02T13:30:00Z","v2":483.3},
      {"id":"a2","t":"2008-08-15T12:00:00Z","v":446.6,"t2":"2007-12-02T05:00:00Z","v2":503.8},
      {"id":"a3","t":"2008-08-14T00:00:00Z","v":434.2,"t2":"2008-04-15T21:36:00Z","v2":405.8},
      {"id":"a4","t":"2008-09-11T12:00:00Z","v":418.2,"t2":"2008-08-25T10:00:00Z","v2":397.6},
      {"id":"a5","t":"2008-09-30T12:00:00Z","v":417.4,"t2":"2008-10-07T12:00:00Z","v2":388.4},
      {"id":"a6","t":"2008-10-25T07:00:00Z","v":421.3,"t2":"2008-12-03T22:00:00Z","v2":402.6},
      {"id":"a7","t":"2008-11-15T05:00:00Z","v":429.5,"t2":"2009-01-07T10:00:00Z","v2":407.4}
    ],
    "note": [
      {"t":"2008-09-22T05:00:00Z","v":446.6,"label":"Instrument\nchanges?"}
    ]
  },
  "layer": [
    {
      "data": {"name": "sc"},
      "transform": [{"fold": ["1m", "5m", "10m", "15m", "20m"], "as": ["depth", "value"]}],
      "mark": {"type": "line", "interpolate": "linear", "strokeWidth": 2.6},
      "encoding": {
        "x": {
          "field": "t", "type": "temporal",
          "scale": {"type": "utc", "domain": [1190577312000, 1237291200000]},
          "axis": {
            "title": null,
            "values": [1191196800000, 1193875200000, 1196467200000, 1199145600000, 1201824000000, 1204329600000, 1207008000000, 1209600000000, 1212278400000, 1214870400000, 1217548800000, 1220227200000, 1222819200000, 1225497600000, 1228089600000, 1230768000000, 1233446400000, 1235865600000],
            "labelExpr": "utcFormat(datum.value, '%d/%m/%y')",
            "labelAngle": 270,
            "labelFontSize": 32,
            "labelPadding": 18,
            "tickSize": 18,
            "tickWidth": 2,
            "labelOverlap": false,
            "labelFlush": false,
            "labelBound": false
          }
        },
        "y": {
          "field": "value", "type": "quantitative",
          "scale": {"domain": [347.8, 517.3], "nice": false, "zero": false},
          "axis": {
            "values": [350, 400, 450, 500],
            "title": "Sp. Conductivity",
            "titleFontSize": 33,
            "titleFontWeight": "normal",
            "titleAngle": 270,
            "titleAlign": "center",
            "titleBaseline": "middle",
            "titleX": -127,
            "titleY": 359,
            "labelFontSize": 32,
            "labelPadding": 22,
            "tickSize": 18,
            "tickWidth": 2,
            "labelOverlap": false
          }
        },
        "color": {
          "field": "depth", "type": "nominal",
          "scale": {"domain": ["1m", "5m", "10m", "15m", "20m"], "range": ["#000000", "#bebebe", "#0000ff", "#ffa500", "#ff0000"]},
          "legend": {
            "title": null,
            "orient": "none",
            "legendX": 698.6,
            "legendY": 38.9,
            "direction": "horizontal",
            "columns": 5,
            "gridAlign": "all",
            "columnPadding": 14,
            "padding": 10.5,
            "strokeColor": "#111111",
            "symbolType": "stroke",
            "symbolSize": 2256,
            "symbolStrokeWidth": 2.5,
            "labelOffset": 21,
            "labelFont": "Liberation Sans",
            "labelFontSize": 28,
            "labelColor": "#111111",
            "encode": {"legend": {"update": {"strokeWidth": {"value": 2}}}}
          }
        }
      }
    },
    {
      "data": {"name": "arrows"},
      "mark": {"type": "rule", "color": "#000000", "strokeWidth": 2},
      "encoding": {
        "x": {"field": "t", "type": "temporal", "scale": {"type": "utc"}},
        "y": {"field": "v", "type": "quantitative"},
        "x2": {"field": "t2"},
        "y2": {"field": "v2"}
      }
    },
    {
      "data": {"name": "arrows"},
      "mark": {"type": "point", "shape": "M0,0L-0.8,2L0.8,2Z", "filled": true, "color": "#000000", "size": 289, "opacity": 1, "strokeWidth": 0},
      "encoding": {
        "x": {"field": "t2", "type": "temporal", "scale": {"type": "utc"}},
        "y": {"field": "v2", "type": "quantitative"},
        "angle": {
          "condition": [
            {"test": "datum.id === 'a1'", "value": 282.8},
            {"test": "datum.id === 'a2'", "value": 287.8},
            {"test": "datum.id === 'a3'", "value": 251.1},
            {"test": "datum.id === 'a4'", "value": 209.9},
            {"test": "datum.id === 'a5'", "value": 170.6},
            {"test": "datum.id === 'a6'", "value": 124.4},
            {"test": "datum.id === 'a7'", "value": 121.0}
          ],
          "value": 0
        }
      }
    },
    {
      "data": {"name": "note"},
      "mark": {"type": "text", "font": "Liberation Sans", "fontSize": 37, "lineHeight": 50, "align": "center", "baseline": "middle", "color": "#000000", "lineBreak": "\n"},
      "encoding": {
        "x": {"field": "t", "type": "temporal", "scale": {"type": "utc"}},
        "y": {"field": "v", "type": "quantitative"},
        "text": {"field": "label"}
      }
    }
  ]
}
